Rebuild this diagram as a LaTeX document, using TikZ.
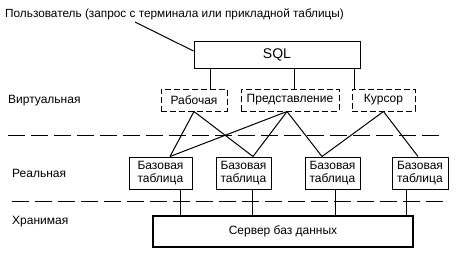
\documentclass[tikz,border=0pt]{standalone}
\usepackage{fontspec}
\setmainfont{Liberation Sans}
\usetikzlibrary{positioning}

\begin{document}
\begin{tikzpicture}[x=1pt, y=-1pt,
    blok/.style={draw, line width=1pt, inner sep=0pt, align=center,
                 font=\fontsize{12}{13}\selectfont},
    pblok/.style={blok, dash pattern=on 6pt off 3pt},
    tabl/.style={blok, align=left, minimum height=32pt},
    uroven/.style={anchor=west, inner sep=0pt, font=\fontsize{12}{13}\selectfont},
    linija/.style={line width=1pt},
    granica/.style={line width=1pt, dash pattern=on 17pt off 6pt}]
  \useasboundingbox[fill=white] (0,0) rectangle (463,260);
  \node[uroven, font=\fontsize{11.8}{13}\selectfont] (user) at (5,14) {Пользователь (запрос с терминала или прикладной таблицы)};
  \node[blok, font=\fontsize{14}{15}\selectfont, minimum width=166pt, minimum height=27pt] (sql) at (277,54.5) {SQL};
  \node[pblok, minimum width=66pt, minimum height=22pt] (rab) at (194,100) {Рабочая};
  \node[pblok, minimum width=98pt, minimum height=22pt] (pred) at (290,100) {Представление};
  \node[pblok, minimum width=63pt, minimum height=22pt] (kurs) at (383.5,100) {Курсор};
  \node[tabl, minimum width=63pt] (bt1) at (160.5,173) {Базовая\\таблица};
  \node[tabl, minimum width=55pt] (bt2) at (243.5,173) {Базовая\\таблица};
  \node[tabl, minimum width=55pt] (bt3) at (332.5,173) {Базовая\\таблица};
  \node[tabl, minimum width=56pt] (bt4) at (420,173) {Базовая\\таблица};
  \node[blok, line width=2pt, minimum width=260pt, minimum height=31pt] (server) at (283,231.5) {Сервер баз данных};
  \node[uroven] (virt) at (8,101) {Виртуальная};
  \node[uroven] (real) at (12,173) {Реальная};
  \node[uroven] (hran) at (12,222) {Хранимая};
  % границы уровней
  \draw[granica] (8,135) -- (443,135);
  \draw[granica] (12,201) -- (448,201);
  % связи
  \coordinate (u) at (135,22);
  \draw[linija] (u) -- ([yshift=3.5pt]sql.west);
  \draw[linija] ([xshift=16pt]rab.north) -- ([xshift=16pt]rab.north |- sql.south);
  \draw[linija] ([xshift=4pt]pred.north) -- ([xshift=4pt]pred.north |- sql.south);
  \draw[linija] ([xshift=-29.5pt]kurs.north) -- ([xshift=-29.5pt]kurs.north |- sql.south);
  \draw[linija] (rab.south) -- ([xshift=9.5pt]bt1.north);
  \draw[linija] (rab.south) -- ([xshift=9.5pt]bt2.north);
  \draw[linija] ([xshift=-3pt]pred.south) -- ([xshift=9.5pt]bt1.north);
  \draw[linija] ([xshift=-3pt]pred.south) -- ([xshift=9.5pt]bt2.north);
  \draw[linija] ([xshift=-3pt]pred.south) -- ([xshift=-10.5pt]bt3.north);
  \draw[linija] (kurs.south) -- ([xshift=-10.5pt]bt3.north);
  \draw[linija] (kurs.south) -- ([xshift=-2pt]bt4.north);
  \draw[linija] ([xshift=19.5pt]bt1.south) -- ([xshift=19.5pt]bt1.south |- server.north);
  \draw[linija] ([xshift=8.5pt]bt2.south) -- ([xshift=8.5pt]bt2.south |- server.north);
  \draw[linija] ([xshift=2.5pt]bt3.south) -- ([xshift=2.5pt]bt3.south |- server.north);
  \draw[linija] ([xshift=-14pt]bt4.south) -- ([xshift=-14pt]bt4.south |- server.north);
\end{tikzpicture}
\end{document}
